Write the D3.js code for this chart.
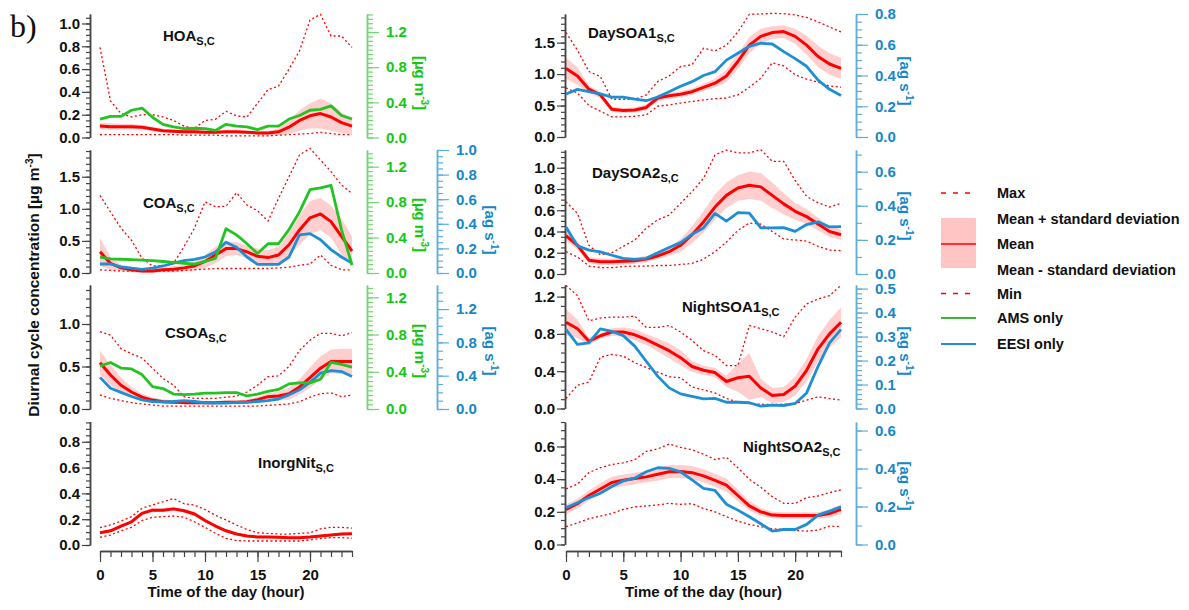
<!DOCTYPE html>
<html>
<head>
<meta charset="utf-8">
<script src="https://cdn.jsdelivr.net/npm/d3@7"></script>
<style>
  body { margin: 0; background: #fff; }
  text { font-family: "Liberation Sans", Arial, sans-serif; font-weight: bold; }
</style>
</head>
<body>
<svg id="chart" width="1189" height="610"></svg>
<script>
// hours of the day, 0..24
const hours = d3.range(0, 25);

// HOA
const hoaMean = [0.10,0.095,0.095,0.095,0.09,0.075,0.06,0.055,0.05,0.05,0.045,0.045,0.05,0.05,0.045,0.04,0.04,0.05,0.09,0.15,0.19,0.21,0.18,0.13,0.10];
const hoaSd   = [0.03,0.03,0.025,0.025,0.02,0.02,0.015,0.015,0.015,0.015,0.015,0.015,0.015,0.015,0.015,0.015,0.02,0.03,0.06,0.09,0.11,0.13,0.12,0.09,0.07];
const hoaMax  = [0.79,0.32,0.21,0.18,0.20,0.20,0.18,0.15,0.10,0.08,0.15,0.16,0.23,0.19,0.18,0.30,0.42,0.45,0.60,0.76,1.03,1.08,0.89,0.89,0.79];
const hoaMin  = [0.025,0.025,0.025,0.025,0.025,0.025,0.025,0.025,0.02,0.02,0.02,0.02,0.015,0.015,0.015,0.015,0.015,0.02,0.025,0.03,0.035,0.045,0.035,0.025,0.025];
const hoaAms  = [0.21,0.24,0.24,0.31,0.335,0.23,0.15,0.12,0.10,0.105,0.10,0.08,0.15,0.13,0.12,0.09,0.13,0.13,0.21,0.25,0.31,0.32,0.36,0.25,0.21];

// COA
const coaMean = [0.33,0.15,0.08,0.05,0.03,0.03,0.05,0.06,0.08,0.11,0.18,0.28,0.38,0.38,0.33,0.26,0.24,0.28,0.44,0.67,0.86,0.92,0.80,0.57,0.34];
const coaSd   = [0.22,0.10,0.05,0.04,0.04,0.04,0.04,0.05,0.05,0.07,0.10,0.13,0.12,0.10,0.10,0.12,0.12,0.13,0.18,0.23,0.26,0.25,0.25,0.28,0.23];
const coaMax  = [1.21,0.95,0.70,0.51,0.23,0.11,0.11,0.15,0.41,0.70,1.11,1.03,1.04,1.25,1.06,0.97,0.81,1.16,1.50,1.84,1.94,1.76,1.58,1.37,1.24];
const coaMin  = [0.05,0.04,0.03,0.03,0.03,0.03,0.03,0.03,0.04,0.05,0.06,0.07,0.07,0.07,0.07,0.07,0.07,0.08,0.09,0.12,0.14,0.28,0.12,0.05,0.05];
const coaAms  = [0.18,0.16,0.155,0.15,0.145,0.14,0.13,0.12,0.11,0.10,0.13,0.165,0.50,0.43,0.33,0.22,0.33,0.33,0.49,0.69,0.94,0.96,0.99,0.49,0.09];
const coaEesi = [0.073,0.073,0.05,0.04,0.03,0.04,0.057,0.08,0.10,0.11,0.13,0.17,0.25,0.21,0.13,0.07,0.07,0.07,0.13,0.31,0.32,0.27,0.19,0.13,0.08];

// CSOA
const csoaMean = [0.545,0.40,0.28,0.20,0.14,0.105,0.086,0.08,0.075,0.075,0.075,0.075,0.08,0.08,0.086,0.11,0.145,0.153,0.18,0.26,0.37,0.48,0.56,0.56,0.56];
const csoaSd   = [0.14,0.12,0.09,0.06,0.04,0.03,0.025,0.02,0.02,0.02,0.02,0.02,0.02,0.02,0.025,0.03,0.04,0.05,0.07,0.09,0.12,0.14,0.14,0.15,0.15];
const csoaMax  = [0.91,0.87,0.71,0.65,0.60,0.48,0.36,0.28,0.145,0.125,0.125,0.125,0.14,0.15,0.20,0.28,0.38,0.39,0.50,0.69,0.81,0.89,0.89,0.86,0.90];
const csoaMin  = [0.165,0.125,0.10,0.075,0.06,0.047,0.035,0.035,0.035,0.035,0.035,0.035,0.035,0.035,0.035,0.035,0.043,0.05,0.06,0.086,0.14,0.18,0.19,0.145,0.165];
const csoaAms  = [0.46,0.50,0.44,0.43,0.37,0.24,0.22,0.16,0.155,0.16,0.17,0.17,0.175,0.175,0.14,0.16,0.19,0.21,0.27,0.28,0.28,0.32,0.50,0.48,0.45];
const csoaEesi = [0.38,0.25,0.20,0.15,0.11,0.09,0.085,0.09,0.10,0.09,0.075,0.07,0.07,0.08,0.08,0.09,0.10,0.12,0.17,0.23,0.32,0.43,0.46,0.45,0.39];

// InorgNit
const nitMean = [0.095,0.11,0.147,0.18,0.245,0.27,0.27,0.28,0.265,0.24,0.19,0.147,0.11,0.085,0.07,0.062,0.062,0.06,0.057,0.057,0.062,0.07,0.077,0.085,0.088];
const nitSd   = [0.01,0.01,0.012,0.012,0.015,0.015,0.015,0.015,0.015,0.015,0.015,0.012,0.012,0.01,0.01,0.01,0.01,0.01,0.01,0.01,0.01,0.01,0.01,0.01,0.01];
const nitMax  = [0.135,0.155,0.185,0.22,0.285,0.31,0.335,0.36,0.32,0.31,0.275,0.23,0.195,0.155,0.12,0.095,0.09,0.085,0.085,0.09,0.095,0.125,0.137,0.137,0.13];
const nitMin  = [0.06,0.077,0.11,0.137,0.19,0.215,0.22,0.225,0.215,0.18,0.137,0.09,0.052,0.034,0.031,0.031,0.031,0.031,0.031,0.031,0.04,0.05,0.057,0.057,0.052];

// DaySOA1
const d1Mean = [1.09,0.97,0.76,0.67,0.44,0.42,0.43,0.47,0.62,0.655,0.68,0.72,0.79,0.855,0.97,1.2,1.46,1.6,1.66,1.675,1.6,1.46,1.28,1.16,1.09];
const d1Sd   = [0.17,0.14,0.06,0.05,0.04,0.04,0.04,0.05,0.05,0.05,0.05,0.05,0.06,0.07,0.1,0.12,0.13,0.12,0.1,0.1,0.12,0.15,0.17,0.17,0.17];
const d1Max  = [1.66,1.38,1.04,0.96,0.60,0.60,0.60,0.67,0.88,0.97,1.12,1.15,1.41,1.37,1.46,1.67,1.95,1.955,1.965,1.96,1.94,1.9,1.83,1.75,1.67];
const d1Min  = [0.78,0.70,0.50,0.41,0.32,0.32,0.33,0.35,0.49,0.51,0.54,0.565,0.59,0.61,0.62,0.67,0.79,0.935,1.18,1.13,0.99,0.92,0.87,0.81,0.79];
const d1Eesi = [0.28,0.31,0.295,0.28,0.26,0.26,0.247,0.236,0.26,0.295,0.33,0.36,0.40,0.425,0.50,0.545,0.59,0.61,0.605,0.555,0.51,0.46,0.37,0.31,0.27];

// DaySOA2
const d2Mean = [0.36,0.27,0.13,0.115,0.115,0.12,0.125,0.14,0.17,0.21,0.27,0.37,0.49,0.63,0.74,0.81,0.835,0.82,0.74,0.66,0.59,0.54,0.47,0.40,0.37];
const d2Sd   = [0.05,0.04,0.03,0.03,0.03,0.03,0.03,0.03,0.03,0.04,0.06,0.08,0.1,0.12,0.12,0.12,0.13,0.13,0.12,0.1,0.08,0.07,0.06,0.05,0.05];
const d2Max  = [0.68,0.57,0.27,0.18,0.20,0.26,0.32,0.43,0.51,0.555,0.665,0.775,0.90,1.12,1.166,1.14,1.14,1.17,1.06,1.06,0.88,0.73,0.67,0.63,0.665];
const d2Min  = [0.21,0.16,0.075,0.06,0.06,0.07,0.075,0.075,0.08,0.08,0.09,0.10,0.14,0.21,0.30,0.41,0.48,0.47,0.40,0.33,0.32,0.31,0.26,0.225,0.22];
const d2Eesi = [0.276,0.165,0.14,0.13,0.11,0.092,0.086,0.092,0.125,0.155,0.184,0.233,0.27,0.355,0.31,0.36,0.357,0.27,0.27,0.272,0.25,0.29,0.306,0.276,0.278];

// NightSOA1
const n1Mean = [0.925,0.855,0.72,0.78,0.82,0.82,0.79,0.74,0.68,0.62,0.545,0.45,0.41,0.385,0.29,0.33,0.345,0.22,0.14,0.15,0.24,0.41,0.64,0.80,0.925];
const n1Sd   = [0.14,0.1,0.04,0.03,0.04,0.05,0.06,0.06,0.07,0.08,0.08,0.06,0.05,0.05,0.06,0.15,0.25,0.1,0.08,0.08,0.1,0.12,0.14,0.15,0.16];
const n1Max  = [1.32,1.21,0.94,0.97,0.98,0.98,0.99,0.87,0.87,0.89,0.82,0.73,0.62,0.57,0.46,0.46,0.89,0.855,0.82,0.77,0.98,1.12,1.175,1.21,1.32];
const n1Min  = [0.107,0.25,0.285,0.55,0.58,0.56,0.49,0.44,0.39,0.34,0.33,0.23,0.2,0.167,0.107,0.07,0.053,0.046,0.043,0.046,0.053,0.09,0.125,0.107,0.09];
const n1Eesi = [0.33,0.267,0.274,0.332,0.322,0.304,0.26,0.197,0.135,0.086,0.061,0.051,0.04,0.042,0.026,0.026,0.024,0.01,0.014,0.0125,0.021,0.065,0.176,0.274,0.33];

// NightSOA2
const n2Mean = [0.215,0.25,0.30,0.34,0.38,0.393,0.404,0.414,0.43,0.445,0.447,0.44,0.42,0.393,0.363,0.30,0.236,0.2,0.18,0.178,0.178,0.178,0.178,0.19,0.215];
const n2Sd   = [0.03,0.03,0.03,0.035,0.035,0.035,0.035,0.035,0.04,0.04,0.04,0.04,0.04,0.04,0.04,0.035,0.03,0.025,0.02,0.02,0.02,0.02,0.02,0.025,0.03];
const n2Max  = [0.34,0.37,0.44,0.47,0.49,0.50,0.52,0.57,0.585,0.615,0.595,0.58,0.553,0.52,0.533,0.47,0.40,0.35,0.293,0.252,0.252,0.287,0.297,0.318,0.334];
const n2Min  = [0.109,0.133,0.158,0.174,0.19,0.215,0.23,0.236,0.242,0.252,0.246,0.25,0.22,0.2,0.17,0.143,0.123,0.109,0.096,0.092,0.086,0.082,0.088,0.113,0.109];
const n2Eesi = [0.193,0.22,0.247,0.27,0.305,0.335,0.349,0.383,0.404,0.401,0.383,0.34,0.296,0.285,0.212,0.181,0.146,0.109,0.071,0.079,0.079,0.106,0.155,0.176,0.198];

const xMajorTicks = [0, 5, 10, 15, 20];
const legendLabels = ["Max", "Mean + standard deviation", "Mean", "Mean - standard deviation", "Min", "AMS only", "EESI only"];

const RED = "#ff0000", GREEN = "#22c322", GREEN_TXT = "#12c812", GREEN_AX = "#74d474",
      BLUE = "#1d8fd4", BLUE_TXT = "#1487c9", BLUE_AX = "#5eaedc", AX = "#444";

const cols = {
  left:  { x0: 100, x1: 352, axisX: 90,  greenX: 367, blueX: 437, greenLabelX: 415, blueLabelX: 485 },
  right: { x0: 566, x1: 841, axisX: 565, blueX: 856, blueLabelX: 900 }
};

const panels = [
  { col: "left", title: "HOA", tx: 163, ty: 41, bottom: 137.5, top: 14, yMax: 1.083, major: 0.2, minor: 0.05,
    mean: hoaMean, sd: hoaSd, max: hoaMax, min: hoaMin, ams: hoaAms,
    green: { yMax: 1.405, major: 0.4, minor: 0.05, labelY: 83 } },
  { col: "left", title: "COA", tx: 143, ty: 208, bottom: 273, top: 150, yMax: 1.916, major: 0.5, minor: 0.1,
    mean: coaMean, sd: coaSd, max: coaMax, min: coaMin, ams: coaAms, eesi: coaEesi,
    green: { yMax: 1.388, major: 0.4, minor: 0.05, labelY: 225 },
    blue: { yMax: 1.0, major: 0.2, minor: 0.05, labelY: 230 } },
  { col: "left", title: "CSOA", tx: 165, ty: 338, bottom: 409, top: 285, yMax: 1.459, major: 0.5, minor: 0.1,
    mean: csoaMean, sd: csoaSd, max: csoaMax, min: csoaMin, ams: csoaAms, eesi: csoaEesi,
    green: { yMax: 1.332, major: 0.4, minor: 0.05, labelY: 351 },
    blue: { yMax: 1.489, major: 0.4, minor: 0.1, labelY: 351 } },
  { col: "left", title: "InorgNit", tx: 258, ty: 468, bottom: 545, top: 421.5, yMax: 0.957, major: 0.2, minor: 0.05,
    mean: nitMean, sd: nitSd, max: nitMax, min: nitMin, xAxis: true },
  { col: "right", title: "DaySOA1", tx: 588, ty: 38, bottom: 137, top: 14, yMax: 1.955, major: 0.5, minor: 0.1,
    mean: d1Mean, sd: d1Sd, max: d1Max, min: d1Min, eesi: d1Eesi,
    blue: { yMax: 0.8, major: 0.2, minor: 0.05, labelY: 81 } },
  { col: "right", title: "DaySOA2", tx: 592, ty: 178, bottom: 274, top: 150, yMax: 1.167, major: 0.2, minor: 0.05,
    mean: d2Mean, sd: d2Sd, max: d2Max, min: d2Min, eesi: d2Eesi,
    blue: { yMax: 0.727, major: 0.2, minor: 0.1, labelY: 216 } },
  { col: "right", title: "NightSOA1", tx: 682, ty: 312, bottom: 408.5, top: 285, yMax: 1.324, major: 0.4, minor: 0.1,
    mean: n1Mean, sd: n1Sd, max: n1Max, min: n1Min, eesi: n1Eesi,
    blue: { yMax: 0.515, major: 0.1, minor: 0.02, labelY: 351 } },
  { col: "right", title: "NightSOA2", tx: 743, ty: 452, bottom: 544.5, top: 422, yMax: 0.75, major: 0.2, minor: 0.05,
    mean: n2Mean, sd: n2Sd, max: n2Max, min: n2Min, eesi: n2Eesi,
    blue: { yMax: 0.645, major: 0.2, minor: 0.1, labelY: 486 }, xAxis: true }
];

const svg = d3.select("#chart");

function ticksFor(max, step) {
  return d3.range(0, Math.floor(max / step + 1e-6) + 1).map(i => +(i * step).toFixed(3));
}

function drawAxis(scale, side, x, spec, majorLen, minorLen, pad, lineColor, textColor) {
  const mk = side === "left" ? d3.axisLeft : d3.axisRight;
  const maxV = scale.domain()[1];
  const g = svg.append("g").attr("transform", `translate(${x},0)`);
  g.append("g")
    .call(mk(scale).tickValues(ticksFor(maxV, spec.minor)).tickSize(minorLen).tickSizeOuter(0).tickFormat(""));
  g.append("g")
    .call(mk(scale).tickValues(ticksFor(maxV, spec.major)).tickSize(majorLen).tickSizeOuter(0)
      .tickPadding(pad).tickFormat(d3.format(".1f")));
  g.selectAll("path.domain").attr("stroke", lineColor).attr("stroke-width", 1.5);
  g.selectAll("line").attr("stroke", lineColor).attr("stroke-width", 1.2);
  g.selectAll("text").attr("fill", textColor).style("font-size", "15px")
    .style("font-family", "'Liberation Sans', Arial, sans-serif").style("font-weight", "bold");
}

function unitLabel(x, y, main, sup, tail, color) {
  const t = svg.append("text").attr("transform", `translate(${x},${y}) rotate(90)`)
    .attr("text-anchor", "middle").attr("fill", color).style("font-size", "15px");
  t.append("tspan").text(main);
  t.append("tspan").attr("dy", -6).style("font-size", "10px").text(sup);
  t.append("tspan").attr("dy", 6).text(tail);
}

panels.forEach(p => {
  const c = cols[p.col];
  const x = d3.scaleLinear().domain([0, 24]).range([c.x0, c.x1]);
  const y = d3.scaleLinear().domain([0, p.yMax]).range([p.bottom, p.top]);

  // mean +/- sd band
  const band = d3.area()
    .x((d, i) => x(hours[i]))
    .y0((d, i) => y(Math.max(0, p.mean[i] - p.sd[i])))
    .y1((d, i) => y(p.mean[i] + p.sd[i]));
  svg.append("path").datum(p.mean).attr("d", band).attr("fill", RED).attr("fill-opacity", 0.19);

  const lineOf = sc => d3.line().x((d, i) => x(hours[i])).y(d => sc(d));

  [p.max, p.min].forEach(arr => {
    svg.append("path").datum(arr).attr("d", lineOf(y)).attr("fill", "none")
      .attr("stroke", RED).attr("stroke-width", 1.3).attr("stroke-dasharray", "2,2.5");
  });

  svg.append("path").datum(p.mean).attr("d", lineOf(y)).attr("fill", "none")
    .attr("stroke", RED).attr("stroke-width", 3).attr("stroke-linejoin", "round");

  drawAxis(y, "left", c.axisX, p, 8, 4, 2, AX, "#111");

  if (p.blue) {
    const yb = d3.scaleLinear().domain([0, p.blue.yMax]).range([p.bottom, p.top]);
    svg.append("path").datum(p.eesi).attr("d", lineOf(yb)).attr("fill", "none")
      .attr("stroke", BLUE).attr("stroke-width", 2.8).attr("stroke-linejoin", "round");
    drawAxis(yb, "right", c.blueX, p.blue, 12, 6, 7, BLUE_AX, BLUE_TXT);
    unitLabel(c.blueLabelX, p.blue.labelY, "[ag s", "-1", "]", BLUE_TXT);
  }
  if (p.green) {
    const yg = d3.scaleLinear().domain([0, p.green.yMax]).range([p.bottom, p.top]);
    svg.append("path").datum(p.ams).attr("d", lineOf(yg)).attr("fill", "none")
      .attr("stroke", GREEN).attr("stroke-width", 2.8).attr("stroke-linejoin", "round");
    drawAxis(yg, "right", c.greenX, p.green, 12, 6, 7, GREEN_AX, GREEN_TXT);
    unitLabel(c.greenLabelX, p.green.labelY, "[µg m", "-3", "]", GREEN_TXT);
  }

  // panel title with subscript
  const t = svg.append("text").attr("x", p.tx).attr("y", p.ty).attr("fill", "#111").style("font-size", "15px");
  t.append("tspan").text(p.title);
  t.append("tspan").attr("dy", 4).style("font-size", "11px").text("S,C");

  if (p.xAxis) {
    const gx = svg.append("g").attr("transform", "translate(0,551)");
    gx.append("g").call(d3.axisBottom(x).tickValues(hours).tickSize(6).tickSizeOuter(0).tickFormat(""));
    gx.append("g").call(d3.axisBottom(x).tickValues(xMajorTicks).tickSize(11).tickSizeOuter(0).tickPadding(7));
    gx.selectAll("path.domain").attr("stroke", AX).attr("stroke-width", 1.5);
    gx.selectAll("line").attr("stroke", AX).attr("stroke-width", 1.2);
    gx.selectAll("text").attr("fill", "#111").style("font-size", "15px")
      .style("font-family", "'Liberation Sans', Arial, sans-serif").style("font-weight", "bold");
    svg.append("text").attr("x", (c.x0 + c.x1) / 2).attr("y", 597).attr("text-anchor", "middle")
      .attr("fill", "#111").style("font-size", "15px").text("Time of the day (hour)");
  }
});

// y axis title
const yt = svg.append("text").attr("transform", "translate(39,285) rotate(-90)")
  .attr("text-anchor", "middle").attr("fill", "#111").style("font-size", "15.5px");
yt.append("tspan").text("Diurnal cycle concentration [µg m");
yt.append("tspan").attr("dy", -6).style("font-size", "10px").text("-3");
yt.append("tspan").attr("dy", 6).text("]");

// panel letter
svg.append("text").attr("x", 10).attr("y", 37).attr("fill", "#111")
  .style("font-family", "'Liberation Serif', 'Times New Roman', serif").style("font-weight", "normal")
  .style("font-size", "32px").text("b)");

// legend
const lg = svg.append("g");
const rowY = [193, 218.5, 244, 269.5, 293.5, 318, 344];
lg.append("rect").attr("x", 941).attr("y", 218).attr("width", 35).attr("height", 50).attr("fill", "#ffc4c4");
lg.append("line").attr("x1", 941).attr("x2", 976).attr("y1", rowY[2]).attr("y2", rowY[2]).attr("stroke", RED).attr("stroke-width", 1.5);
[0, 4].forEach(i => lg.append("line").attr("x1", 941).attr("x2", 976).attr("y1", rowY[i]).attr("y2", rowY[i])
  .attr("stroke", RED).attr("stroke-width", 1.5).attr("stroke-dasharray", "5,7"));
lg.append("line").attr("x1", 941).attr("x2", 976).attr("y1", rowY[5]).attr("y2", rowY[5]).attr("stroke", "#3cb43c").attr("stroke-width", 1.8);
lg.append("line").attr("x1", 941).attr("x2", 976).attr("y1", rowY[6]).attr("y2", rowY[6]).attr("stroke", BLUE).attr("stroke-width", 1.8);
lg.selectAll("text.lab").data(legendLabels).enter().append("text").attr("class", "lab")
  .attr("x", 997).attr("y", (d, i) => rowY[i] + 5).attr("fill", "#111").style("font-size", "14.5px").text(d => d);
</script>
</body>
</html>
